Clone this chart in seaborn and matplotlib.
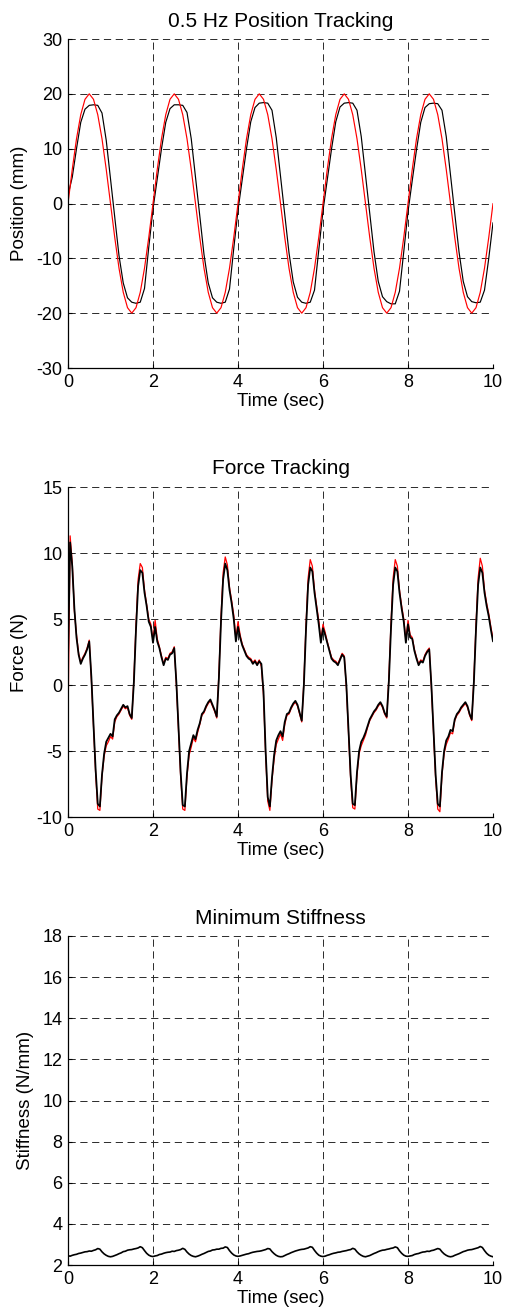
import numpy as np
import pandas as pd
import matplotlib
matplotlib.use("Agg")
import matplotlib.pyplot as plt
import seaborn as sns

# ---------------- data ----------------
# Position tracking, sampled every 0.1 s
pos_time = np.round(np.arange(101) * 0.1, 2)
pos_ref = [
    0.0, 6.2, 11.8, 16.2, 19.0, 20.0, 19.0, 16.2, 11.8, 6.2,
    0.0, -6.2, -11.8, -16.2, -19.0, -20.0, -19.0, -16.2, -11.8, -6.2,
    0.0, 6.2, 11.8, 16.2, 19.0, 20.0, 19.0, 16.2, 11.8, 6.2,
    0.0, -6.2, -11.8, -16.2, -19.0, -20.0, -19.0, -16.2, -11.8, -6.2,
    0.0, 6.2, 11.8, 16.2, 19.0, 20.0, 19.0, 16.2, 11.8, 6.2,
    0.0, -6.2, -11.8, -16.2, -19.0, -20.0, -19.0, -16.2, -11.8, -6.2,
    0.0, 6.2, 11.8, 16.2, 19.0, 20.0, 19.0, 16.2, 11.8, 6.2,
    0.0, -6.2, -11.8, -16.2, -19.0, -20.0, -19.0, -16.2, -11.8, -6.2,
    0.0, 6.2, 11.8, 16.2, 19.0, 20.0, 19.0, 16.2, 11.8, 6.2,
    0.0, -6.2, -11.8, -16.2, -19.0, -20.0, -19.0, -16.2, -11.8, -6.2,
    0.0]
pos_meas = [
    1.5, 4.8, 10.0, 14.8, 17.2, 17.9, 18.0, 17.9, 16.5, 11.5,
    4.5, -2.5, -9.5, -14.5, -17.2, -18.0, -18.2, -18.0, -15.5, -8.0,
    -1.0, 4.5, 10.0, 14.8, 17.3, 18.0, 18.0, 17.9, 16.6, 11.8,
    4.8, -2.2, -9.3, -14.5, -17.2, -18.0, -18.2, -18.0, -15.6, -8.2,
    -1.2, 4.4, 10.0, 14.9, 17.5, 18.3, 18.4, 18.3, 17.0, 12.0,
    5.0, -2.0, -9.0, -14.3, -17.1, -18.0, -18.2, -18.0, -15.8, -8.5,
    -1.3, 4.3, 9.9, 14.9, 17.6, 18.3, 18.4, 18.3, 17.0, 12.2,
    5.2, -1.8, -8.8, -14.2, -17.0, -17.9, -18.3, -18.3, -16.0, -8.8,
    -1.5, 4.2, 9.8, 14.8, 17.5, 18.2, 18.3, 18.2, 17.0, 12.2,
    5.2, -1.8, -8.8, -14.2, -17.0, -17.9, -18.1, -18.0, -15.8, -10.0,
    -3.5]

# Force tracking, sampled every 0.05 s
force_time = np.round(np.arange(201) * 0.05, 2)
force_ref = [
    -3.0, 11.3, 9.2, 5.6, 3.8, 2.4, 1.7, 2.1, 2.4, 2.8, 3.4, 0.4, -3.2, -6.7, -9.4, -9.5, -6.9, -5.4, -4.6, -4.3,
    -3.9, -4.1, -2.8, -2.4, -2.2, -1.9, -1.6, -1.8, -1.7, -2.3, -2.6, 0.5, 4.6, 8.0, 9.2, 8.9, 7.2, 6.1, 5.0, 4.6,
    3.4, 4.9, 3.5, 2.9, 2.2, 1.6, 2.1, 2.0, 2.4, 2.5, 2.9, 0.0, -3.4, -6.9, -9.4, -9.5, -6.9, -5.3, -4.7, -4.0,
    -4.3, -3.6, -3.0, -2.3, -2.1, -1.7, -1.4, -1.2, -1.6, -2.0, -2.5, 0.8, 5.2, 8.5, 9.7, 9.1, 7.4, 6.4, 5.3, 3.5,
    4.8, 3.8, 3.1, 2.7, 2.3, 2.1, 2.0, 1.7, 1.9, 1.6, 1.9, 1.4, -0.8, -5.3, -8.8, -9.5, -7.2, -5.6, -4.5, -4.1,
    -3.7, -4.2, -3.0, -2.3, -2.2, -1.8, -1.5, -1.3, -1.6, -2.2, -2.8, 0.3, 4.6, 8.1, 9.5, 9.0, 7.2, 6.0, 4.9, 3.4,
    4.6, 4.0, 3.3, 2.7, 2.1, 1.9, 1.8, 1.6, 2.0, 2.4, 2.2, -0.2, -3.6, -7.1, -9.3, -9.4, -6.8, -5.2, -4.6, -4.2,
    -3.8, -3.2, -2.7, -2.4, -2.1, -1.9, -1.6, -1.4, -1.7, -2.2, -2.5, 0.6, 4.7, 8.1, 9.5, 9.0, 7.2, 6.0, 5.0, 3.4,
    4.9, 3.8, 3.6, 2.7, 2.1, 1.6, 1.9, 1.8, 2.3, 2.6, 2.8, -0.2, -3.6, -7.1, -9.4, -9.6, -6.8, -5.2, -4.5, -4.1,
    -3.6, -3.7, -2.7, -2.3, -2.1, -1.8, -1.6, -1.4, -1.7, -2.3, -2.7, 0.5, 4.6, 8.1, 9.6, 9.0, 7.2, 6.2, 5.4, 4.4,
    3.5]
force_meas = [
    2.0, 10.8, 9.0, 5.8, 3.6, 2.3, 1.6, 2.0, 2.3, 2.7, 3.3, 0.6, -3.0, -6.4, -9.0, -9.2, -6.8, -5.2, -4.3, -4.0,
    -3.7, -3.9, -2.6, -2.3, -2.1, -1.8, -1.5, -1.7, -1.6, -2.2, -2.5, 0.2, 4.2, 7.5, 8.7, 8.5, 7.0, 6.0, 4.8, 4.4,
    3.2, 4.4, 3.3, 2.8, 2.1, 1.5, 2.0, 1.9, 2.3, 2.4, 2.8, 0.2, -3.2, -6.6, -9.1, -9.2, -6.7, -5.0, -4.4, -3.8,
    -4.1, -3.4, -2.9, -2.2, -2.0, -1.6, -1.3, -1.1, -1.5, -1.9, -2.4, 0.5, 4.8, 8.0, 9.2, 8.7, 7.2, 6.2, 5.0, 3.3,
    4.4, 3.6, 3.0, 2.6, 2.2, 2.0, 1.9, 1.6, 1.8, 1.5, 1.8, 1.6, -0.5, -5.0, -8.5, -9.2, -7.0, -5.3, -4.2, -3.8,
    -3.5, -3.9, -2.8, -2.2, -2.1, -1.7, -1.4, -1.2, -1.5, -2.1, -2.7, 0.0, 4.2, 7.6, 8.9, 8.6, 7.0, 5.8, 4.6, 3.2,
    4.3, 3.8, 3.2, 2.6, 2.0, 1.8, 1.7, 1.5, 1.9, 2.3, 2.1, 0.0, -3.4, -6.8, -9.0, -9.1, -6.6, -5.0, -4.3, -4.0,
    -3.6, -3.1, -2.6, -2.3, -2.0, -1.8, -1.5, -1.3, -1.6, -2.1, -2.4, 0.3, 4.3, 7.6, 8.9, 8.6, 7.0, 5.8, 4.8, 3.2,
    4.6, 3.6, 3.5, 2.6, 2.0, 1.5, 1.8, 1.7, 2.2, 2.5, 2.7, 0.0, -3.4, -6.8, -9.0, -9.2, -6.6, -5.0, -4.2, -3.9,
    -3.4, -3.5, -2.6, -2.2, -2.0, -1.7, -1.5, -1.3, -1.6, -2.2, -2.6, 0.2, 4.2, 7.6, 8.9, 8.5, 7.0, 6.0, 5.2, 4.2,
    3.3]

# Minimum stiffness, sampled every 0.05 s
stiff_time = np.round(np.arange(201) * 0.05, 2)
stiffness = [
    2.45, 2.43, 2.47, 2.50, 2.52, 2.56, 2.58, 2.61, 2.64, 2.65, 2.68, 2.67, 2.71, 2.74, 2.80, 2.77, 2.64, 2.54, 2.47, 2.42,
    2.40, 2.42, 2.46, 2.50, 2.55, 2.59, 2.65, 2.67, 2.72, 2.74, 2.75, 2.78, 2.80, 2.83, 2.89, 2.84, 2.70, 2.57, 2.48, 2.43,
    2.41, 2.44, 2.46, 2.51, 2.53, 2.57, 2.60, 2.62, 2.63, 2.67, 2.66, 2.70, 2.72, 2.75, 2.81, 2.76, 2.63, 2.53, 2.46, 2.42,
    2.40, 2.43, 2.47, 2.52, 2.56, 2.61, 2.66, 2.68, 2.73, 2.74, 2.77, 2.77, 2.81, 2.82, 2.88, 2.85, 2.70, 2.58, 2.49, 2.44,
    2.42, 2.44, 2.47, 2.50, 2.53, 2.55, 2.59, 2.62, 2.64, 2.66, 2.67, 2.69, 2.72, 2.75, 2.80, 2.78, 2.65, 2.55, 2.47, 2.42,
    2.40, 2.41, 2.46, 2.51, 2.55, 2.60, 2.64, 2.68, 2.71, 2.74, 2.76, 2.77, 2.80, 2.83, 2.89, 2.86, 2.71, 2.58, 2.48, 2.43,
    2.41, 2.43, 2.47, 2.50, 2.54, 2.57, 2.59, 2.62, 2.63, 2.66, 2.68, 2.70, 2.73, 2.75, 2.81, 2.77, 2.64, 2.54, 2.47, 2.42,
    2.40, 2.43, 2.46, 2.51, 2.56, 2.60, 2.65, 2.69, 2.72, 2.73, 2.76, 2.78, 2.81, 2.83, 2.88, 2.84, 2.69, 2.57, 2.48, 2.43,
    2.42, 2.44, 2.46, 2.51, 2.54, 2.56, 2.60, 2.63, 2.64, 2.67, 2.66, 2.70, 2.72, 2.76, 2.80, 2.77, 2.64, 2.54, 2.47, 2.42,
    2.40, 2.42, 2.47, 2.51, 2.55, 2.60, 2.65, 2.68, 2.72, 2.74, 2.75, 2.78, 2.81, 2.84, 2.90, 2.85, 2.70, 2.57, 2.48, 2.43,
    2.40]

x_ticks = [0, 2, 4, 6, 8, 10]
pos_ticks = [-30, -20, -10, 0, 10, 20, 30]
force_ticks = [-10, -5, 0, 5, 10, 15]
stiff_ticks = [2, 4, 6, 8, 10, 12, 14, 16, 18]

titles = ["0.5 Hz Position Tracking", "Force Tracking", "Minimum Stiffness"]
ylabels = ["Position (mm)", "Force (N)", "Stiffness (N/mm)"]
xlabel = "Time (sec)"

# ---------------- style ----------------
sns.set_style("white")
plt.rcParams["font.family"] = ["Liberation Sans", "DejaVu Sans"]
plt.rcParams["lines.scale_dashes"] = False
plt.rcParams["text.color"] = "black"
plt.rcParams["axes.labelcolor"] = "black"
plt.rcParams["xtick.color"] = "black"
plt.rcParams["ytick.color"] = "black"

W, H = 507, 1315
fig = plt.figure(figsize=(W / 100, H / 100), dpi=100)
fig.patch.set_facecolor("white")


def rect(top_px, bottom_px, left_px=68, right_px=493):
    return [left_px / W, 1 - bottom_px / H, (right_px - left_px) / W, (bottom_px - top_px) / H]


ax1 = fig.add_axes(rect(39, 368))
ax2 = fig.add_axes(rect(487, 817))
ax3 = fig.add_axes(rect(936, 1265))

df_pos = pd.DataFrame({"t": pos_time, "ref": pos_ref, "meas": pos_meas})
df_force = pd.DataFrame({"t": force_time, "ref": force_ref, "meas": force_meas})
df_stiff = pd.DataFrame({"t": stiff_time, "k": stiffness})

sns.lineplot(data=df_pos, x="t", y="meas", ax=ax1, color="black", lw=0.85, estimator=None)
sns.lineplot(data=df_pos, x="t", y="ref", ax=ax1, color="red", lw=0.85, estimator=None)

sns.lineplot(data=df_force, x="t", y="ref", ax=ax2, color="red", lw=0.9, estimator=None)
sns.lineplot(data=df_force, x="t", y="meas", ax=ax2, color="black", lw=1.3, estimator=None)

sns.lineplot(data=df_stiff, x="t", y="k", ax=ax3, color="black", lw=1.2, estimator=None)

setups = [
    (ax1, pos_ticks, (-30, 30)),
    (ax2, force_ticks, (-10, 15)),
    (ax3, stiff_ticks, (2, 18)),
]

for i, (ax, yt, ylim) in enumerate(setups):
    ax.set_xlim(0, 10)
    ax.set_ylim(*ylim)
    ax.set_xticks(x_ticks)
    ax.set_yticks(yt)
    ax.set_xticklabels([str(v) for v in x_ticks])
    ax.set_yticklabels([str(v) for v in yt])
    ax.set_axisbelow(True)
    ax.grid(True, color="#2a2a2a", lw=0.7, linestyle=(0, (5.2, 3.3)))
    for s in ["top", "right"]:
        ax.spines[s].set_visible(False)
    for s in ["left", "bottom"]:
        ax.spines[s].set_color("black")
        ax.spines[s].set_linewidth(0.9)
    ax.tick_params(axis="both", direction="in", length=3, width=0.8, color="black",
                   labelcolor="black", labelsize=13, pad=4, left=True, bottom=True,
                   top=False, right=False)
    ax.set_title(titles[i], fontsize=15, pad=9, color="black")
    ax.set_xlabel(xlabel, fontsize=13.5, labelpad=1.5, color="black")
    ax.set_ylabel(ylabels[i], fontsize=13.5, labelpad=6, color="black")
    ax.set_facecolor("white")

fig.savefig("out.png", dpi=100, facecolor="white")
